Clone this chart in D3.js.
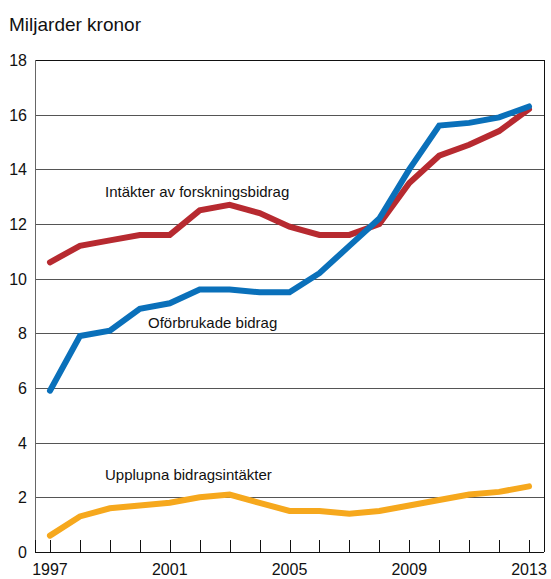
<!DOCTYPE html>
<html><head><meta charset="utf-8">
<script src="https://cdn.jsdelivr.net/npm/d3@7"></script>
<style>body{margin:0;background:#fff}svg{display:block;font-family:"Liberation Sans",Arial,sans-serif}</style>
</head><body><svg id="c" width="551" height="579"></svg>
<script>
const years = [1997,1998,1999,2000,2001,2002,2003,2004,2005,2006,2007,2008,2009,2010,2011,2012,2013];
const intakter = [10.6,11.2,11.4,11.6,11.6,12.5,12.7,12.4,11.9,11.6,11.6,12.0,13.5,14.5,14.9,15.4,16.2];
const oforbrukade = [5.9,7.9,8.1,8.9,9.1,9.6,9.6,9.5,9.5,10.2,11.2,12.2,14.0,15.6,15.7,15.9,16.3];
const upplupna = [0.6,1.3,1.6,1.7,1.8,2.0,2.1,1.8,1.5,1.5,1.4,1.5,1.7,1.9,2.1,2.2,2.4];
const yTicks = [0,2,4,6,8,10,12,14,16,18];
const xLabels = [1997,2001,2005,2009,2013];
const seriesNames = ["Intäkter av forskningsbidrag","Oförbrukade bidrag","Upplupna bidragsintäkter"];

const svg = d3.select("#c");
const L=35,R=544,T=60,B=552;
const x = d3.scaleBand().domain(years).range([L,R]);
const xc = d => x(d)+x.bandwidth()/2;
const y = d3.scaleLinear().domain([0,18]).range([B,T]);

svg.append("text").attr("x",9).attr("y",31).attr("font-size",19).attr("fill","#111").text("Miljarder kronor");

const g = svg.append("g");
yTicks.forEach(t=>{
  g.append("line").attr("x1",L).attr("x2",R).attr("y1",Math.round(y(t))+0.5).attr("y2",Math.round(y(t))+0.5)
   .attr("stroke", t===0||t===18?"#111":"#555").attr("stroke-width",1);
  svg.append("text").attr("x",27).attr("y",y(t)+6).attr("text-anchor","end").attr("font-size",16).attr("fill","#111").text(t);
});
g.append("line").attr("x1",L+0.5).attr("x2",L+0.5).attr("y1",T).attr("y2",B).attr("stroke","#666");
g.append("line").attr("x1",R+0.5).attr("x2",R+0.5).attr("y1",T).attr("y2",B).attr("stroke","#111");
years.forEach(yr=>{
  g.append("line").attr("x1",Math.round(xc(yr))+0.5).attr("x2",Math.round(xc(yr))+0.5).attr("y1",B).attr("y2",B-12).attr("stroke","#111");
});
g.append("line").attr("x1",L+0.5).attr("x2",L+0.5).attr("y1",B).attr("y2",B-12).attr("stroke","#111");
xLabels.forEach(yr=>{
  svg.append("text").attr("x",xc(yr)).attr("y",575).attr("text-anchor","middle").attr("font-size",16).attr("fill","#111").text(yr);
});

const line = d3.line().x((d,i)=>xc(years[i])).y(d=>y(d));
const draw=(data,color)=>svg.append("path").datum(data).attr("d",line).attr("fill","none")
  .attr("stroke",color).attr("stroke-width",6).attr("stroke-linejoin","miter").attr("stroke-linecap","round");
draw(upplupna,"#f6a81d");
draw(intakter,"#b72a30");
draw(oforbrukade,"#0a70ba");

svg.append("text").attr("x",105).attr("y",197).attr("font-size",15).attr("fill","#111").text(seriesNames[0]);
svg.append("text").attr("x",148).attr("y",328).attr("font-size",15).attr("fill","#111").text(seriesNames[1]);
svg.append("text").attr("x",105).attr("y",480).attr("font-size",15).attr("fill","#111").text(seriesNames[2]);
</script></body></html>
